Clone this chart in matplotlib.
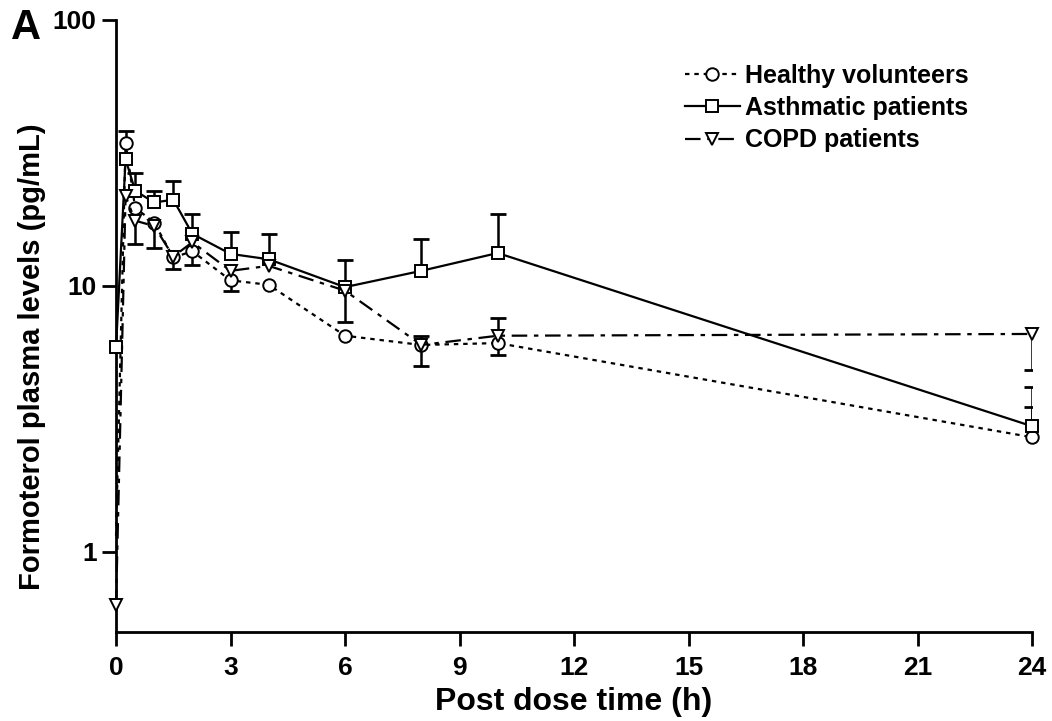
import numpy as np
import matplotlib
matplotlib.use("Agg")
import matplotlib.pyplot as plt

# time points (h)
time_h = [0, 0.25, 0.5, 1, 1.5, 2, 3, 4, 6, 8, 10, 24]

# mean formoterol plasma levels (pg/mL)
healthy = [1.15, 34.6, 19.7, 17.3, 12.8, 13.5, 10.5, 10.1, 6.5, 6.0, 6.1, 2.7]
asthma = [5.9, 30.0, 22.8, 20.6, 21.1, 15.7, 13.2, 12.6, 9.9, 11.4, 13.3, 2.97]
copd = [0.63, 21.8, 17.6, 16.8, 12.9, 14.6, 11.4, 11.9, 9.6, 6.0, 6.5, 6.6]

# one-sided error bar ends (nan = no bar on that side)
nan = np.nan
healthy_lo = [nan, nan, nan, 13.9, nan, 12.0, 9.6, nan, nan, nan, 5.5, nan]
healthy_hi = [nan, 38.1, nan, nan, nan, nan, nan, nan, nan, 6.5, nan, 3.5]
asthma_lo = [nan] * 12
asthma_hi = [nan, nan, 26.7, 22.8, 24.8, 18.7, 16.0, 15.7, 12.5, 15.0, 18.6, 4.17]
copd_lo = [nan, nan, 14.4, nan, 11.6, nan, nan, nan, 7.3, 5.0, nan, 4.85]
copd_hi = [nan, nan, nan, nan, nan, nan, nan, nan, nan, nan, 7.6, nan]

x_ticks = [0, 3, 6, 9, 12, 15, 18, 21, 24]
y_ticks = [1, 10, 100]

plt.rcParams['font.family'] = ['Liberation Sans', 'DejaVu Sans']

fig = plt.figure(figsize=(10.52, 7.21), dpi=100)
ax = fig.add_axes([0.1103, 0.1234, 0.8707, 0.8489])

series = [
    (healthy, healthy_lo, healthy_hi, 'o', (0, (2, 2.2)), 'Healthy volunteers', range(1, 12)),
    (asthma, asthma_lo, asthma_hi, 's', '-', 'Asthmatic patients', None),
    (copd, copd_lo, copd_hi, 'v', (0, (7, 3, 2, 3)), 'COPD patients', None),
]

for vals, lo, hi, mk, ls, lab, mev in series:
    # error bars, one side only
    for ends in (lo, hi):
        for t, v, e in zip(time_h, vals, ends):
            if np.isnan(e):
                continue
            ax.vlines(t, v, e, color='black', linewidth=1.8, zorder=2)
            ax.plot(t, e, marker='_', markersize=12, markeredgewidth=2,
                    color='black', zorder=2)
    ax.plot(time_h, vals, linestyle=ls, color='black', linewidth=1.6,
            marker=mk, markersize=9, markerfacecolor='white',
            markeredgecolor='black', markeredgewidth=1.4, label=lab,
            markevery=list(mev) if mev else None, zorder=3, clip_on=False)

ax.set_yscale('log')
ax.set_ylim(0.5, 100)
ax.set_xlim(0, 24)
ax.set_xticks(x_ticks)
ax.set_xticklabels([str(t) for t in x_ticks], fontsize=19, fontweight='bold')
ax.set_yticks(y_ticks)
ax.set_yticklabels(['1', '10', '100'], fontsize=19, fontweight='bold')
ax.yaxis.set_minor_locator(matplotlib.ticker.NullLocator())

for s in ['top', 'right']:
    ax.spines[s].set_visible(False)
for s in ['left', 'bottom']:
    ax.spines[s].set_linewidth(2)
ax.tick_params(width=2, length=10, direction='out')
ax.tick_params(axis='x', pad=7)
ax.tick_params(axis='y', pad=4)

ax.set_xlabel('Post dose time (h)', fontsize=23, fontweight='bold', labelpad=5)
ax.set_ylabel('Formoterol plasma levels (pg/mL)', fontsize=21, fontweight='bold')
ax.yaxis.set_label_coords(-0.076, 0.45)
fig.text(0.010, 0.946, 'A', fontsize=30, fontweight='bold')

leg = ax.legend(loc='upper right', bbox_to_anchor=(0.955, 0.965), frameon=False,
                handlelength=2.2, handletextpad=0.2, labelspacing=0.33,
                prop={'weight': 'bold', 'size': 18})

fig.savefig('out.png', dpi=100)
